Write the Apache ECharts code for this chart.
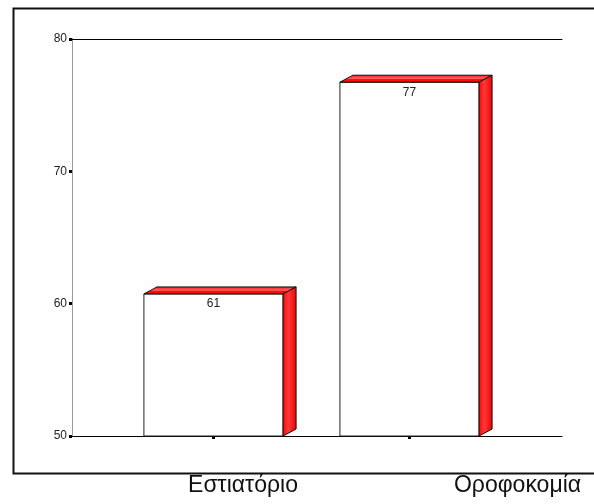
<!DOCTYPE html>
<html>
<head>
<meta charset="utf-8">
<script src="https://cdn.jsdelivr.net/npm/echarts@6/dist/echarts.min.js"></script>
<style>
  html, body { margin: 0; padding: 0; background: #fff; }
  #chart { width: 594px; height: 504px; }
</style>
</head>
<body>
<div id="chart"></div>
<script>
// Department categories and their scores
const categories = ['Εστιατόριο', 'Οροφοκομία'];
const values = [61, 77];
const yMin = 50;
const yMax = 80;
const yStep = 10;

const FONT = '"Liberation Sans", Arial, sans-serif';

// 3D bar: white front face, red top and side faces
function renderBar(params, api) {
  const idx = api.value(0);
  const v = api.value(1);
  const top = api.coord([idx, v]);
  const base = api.coord([idx, yMin]);
  const bandW = api.size([1, 0])[0];
  const w = bandW * 0.71;
  const x0 = top[0] - w / 2;
  const x1 = top[0] + w / 2;
  const ft = top[1] + 3.5;
  const yb = base[1];
  const dx = 13, dy = 7;
  return {
    type: 'group',
    children: [
      {
        type: 'rect',
        shape: { x: x0, y: ft, width: w, height: yb - ft },
        style: { fill: '#ffffff', stroke: '#222', lineWidth: 1 }
      },
      {
        type: 'polygon',
        shape: { points: [[x0, ft], [x0 + dx, ft - dy], [x1 + dx, ft - dy], [x1, ft]] },
        style: {
          fill: new echarts.graphic.LinearGradient(0, 0, 0, 1, [
            { offset: 0, color: '#ff0000' },
            { offset: 0.45, color: '#ff6a6a' },
            { offset: 0.6, color: '#ff1010' },
            { offset: 1, color: '#ff0000' }
          ]),
          stroke: '#111', lineWidth: 1
        }
      },
      {
        type: 'polygon',
        shape: { points: [[x1, ft], [x1 + dx, ft - dy], [x1 + dx, yb - dy], [x1, yb]] },
        style: {
          fill: new echarts.graphic.LinearGradient(0, 0, 1, 0, [
            { offset: 0, color: '#ff0000' },
            { offset: 0.4, color: '#ff3a3a' },
            { offset: 1, color: '#f00000' }
          ]),
          stroke: '#111', lineWidth: 1
        }
      },
      {
        type: 'text',
        style: {
          text: String(v),
          x: top[0],
          y: ft + 4,
          textAlign: 'center',
          textVerticalAlign: 'top',
          fontSize: 12,
          fontFamily: FONT,
          fill: '#222'
        }
      }
    ]
  };
}

const chart = echarts.init(document.getElementById('chart'), null, { renderer: 'canvas' });

const hidden = {
  axisLine: { show: false }, axisTick: { show: false },
  axisLabel: { show: false }, splitLine: { show: false }
};

chart.setOption({
  animation: false,
  backgroundColor: '#fff',
  graphic: [
    {
      type: 'rect',
      left: 11, top: 6,
      shape: { x: 0, y: 0, width: 640, height: 465 },
      style: { fill: 'none', stroke: '#111', lineWidth: 2 },
      z: 0
    }
  ],
  grid: [
    { left: 72, right: 32, top: 39, bottom: 68 },
    { left: 115.5, right: 86.5, top: 39, bottom: 68 },
    // category caption row: captions sit on the grid's two edges
    { left: 243, right: 76.5, top: 39, bottom: 68 }
  ],
  xAxis: [
    {
      gridIndex: 0, type: 'value', min: 0, max: 1, position: 'bottom',
      axisLine: { show: true, lineStyle: { color: '#000', width: 1 } },
      axisTick: { show: false }, axisLabel: { show: false }, splitLine: { show: false }
    },
    {
      gridIndex: 0, type: 'value', min: 0, max: 1, position: 'top',
      axisLine: { show: true, lineStyle: { color: '#000', width: 1 } },
      axisTick: { show: false }, axisLabel: { show: false }, splitLine: { show: false }
    },
    {
      gridIndex: 1, type: 'category', data: categories,
      axisLine: { show: false },
      axisTick: { show: true, alignWithLabel: true, length: 3, lineStyle: { color: '#000', width: 3 } },
      axisLabel: { show: false }, splitLine: { show: false }
    },
    {
      gridIndex: 2, type: 'category', data: categories, boundaryGap: false,
      axisLine: { show: false }, axisTick: { show: false }, splitLine: { show: false },
      axisLabel: { show: true, margin: 38, fontSize: 23, fontFamily: FONT, color: '#111' }
    }
  ],
  yAxis: [
    {
      gridIndex: 0, type: 'value', min: yMin, max: yMax, interval: yStep, position: 'left',
      axisLine: { show: true, lineStyle: { color: '#000', width: 1 } },
      axisTick: { show: true, length: 3, lineStyle: { color: '#000', width: 3 } },
      axisLabel: { show: true, margin: 5, fontSize: 12, fontFamily: FONT, color: '#222' },
      splitLine: { show: false }
    },
    {
      gridIndex: 0, type: 'value', min: yMin, max: yMax, position: 'right',
      axisLine: { show: true, lineStyle: { color: '#9a9a9a', width: 1 } },
      axisTick: { show: false }, axisLabel: { show: false }, splitLine: { show: false }
    },
    Object.assign({ gridIndex: 1, type: 'value', min: yMin, max: yMax }, hidden),
    Object.assign({ gridIndex: 2, type: 'value', min: yMin, max: yMax }, hidden)
  ],
  series: [
    {
      type: 'custom',
      xAxisIndex: 2,
      yAxisIndex: 2,
      renderItem: renderBar,
      data: values.map((v, i) => [i, v]),
      z: 5
    }
  ]
});
</script>
</body>
</html>
